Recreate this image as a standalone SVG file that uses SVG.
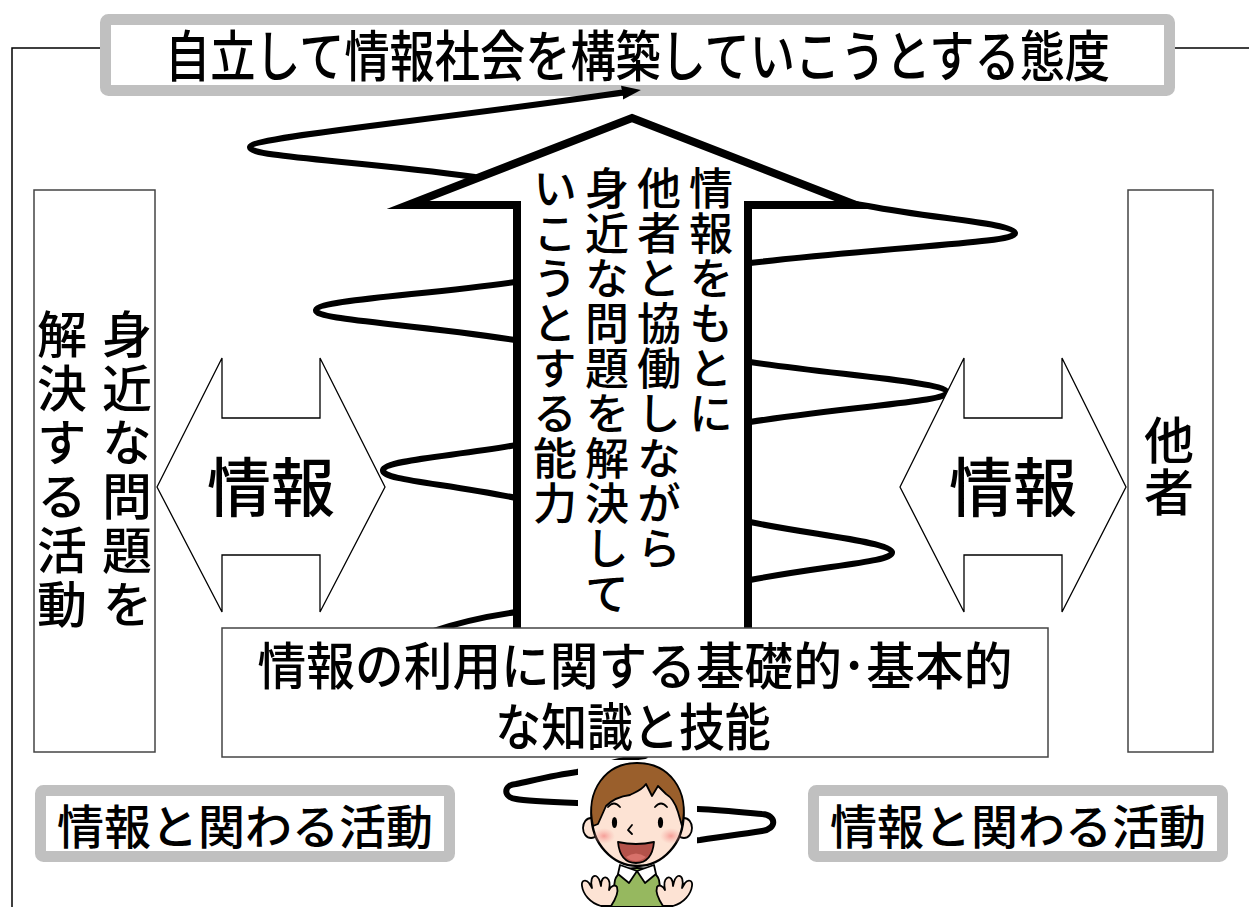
<svg xmlns="http://www.w3.org/2000/svg" width="1249" height="907" viewBox="0 0 1249 907">
  <style>
    .jp { font-family: "Noto Sans CJK JP", "Noto Sans", sans-serif; font-weight: 500; fill: #000; }
    .vert { writing-mode: vertical-rl; text-orientation: upright; }
    .frame { fill: none; stroke: #000; stroke-width: 1.5; }
    .thinbox { fill: #fff; stroke: #444; stroke-width: 1.5; }
    .graybox { fill: #fff; stroke: #c0c0c0; stroke-width: 11; }
    .dbl { fill: #fff; stroke: #000; stroke-width: 1.3; stroke-linejoin: miter; }
    .spiral { fill: none; stroke: #000; stroke-width: 6; stroke-linecap: butt; stroke-linejoin: round; }
    .ink { stroke: #000; stroke-width: 1.8; stroke-linejoin: round; stroke-linecap: round; }
  </style>
  <defs>
    <marker id="spiralHead" markerUnits="userSpaceOnUse" markerWidth="22" markerHeight="18" refX="8" refY="9" orient="auto">
      <path d="M0,2 L19,9 L0,16 Z" fill="#000"/>
    </marker>
    <radialGradient id="blush">
      <stop offset="0" stop-color="#f59a94" stop-opacity="0.95"/>
      <stop offset="1" stop-color="#f8b4ac" stop-opacity="0"/>
    </radialGradient>
  </defs>

  <rect width="1249" height="907" fill="#fff"/>

  <!-- outer frame -->
  <g id="frame">
    <path class="frame" d="M100,48 H12 V907"/>
    <path class="frame" d="M1175,48 H1249"/>
  </g>

  <!-- attitude (the spiral ends on its lower border) -->
  <g id="attitude">
    <rect class="graybox" x="105.5" y="19.5" width="1064" height="71" rx="3"/>
    <text class="jp" transform="translate(637.5,76) scale(0.822,1)" x="0" y="0" font-size="55" text-anchor="middle">自立して情報社会を構築していこうとする態度</text>
  </g>

  <!-- spiral that winds up around the central arrow -->
  <g id="connectors">
    <path class="spiral" marker-end="url(#spiralHead)" d="
      M690,841 L700,840
      C725,836 750,833 762,831
      C777,829 777,815 762,814
      C740,812 720,810 698,809
      L577,803
      C550,802 525,801 516,799
      C503,797 503,785 516,784
      C535,780 555,775 577,772
      C600,767 620,759 645,756
      L600,730 L420,662
      C398,655 404,640 430,632
      C460,622 495,615 517,612
      L750,580
      C828,565 894,562 892,552
      C890,542 814,535 750,522
      L516,498
      C443,483 381,480 383,470
      C385,460 456,456 516,445
      L750,422
      C858,405 949,402 947,392
      C945,382 839,375 750,362
      L515,340
      C406,323 314,320 316,310
      C318,300 425,295 515,282
      L750,263
      C896,246 1017,243 1015,233
      C1013,223 935,219 868,206
      L800,195 L475,177
      C351,160 248,157 250,147
      C252,137 421,122 630,91.5"/>
  </g>

  <!-- central upward arrow -->
  <g id="ability">
    <polygon points="632,118 856,205 748,205 748,640 517,640 517,205 408,205" fill="#fff" stroke="#000" stroke-width="8" stroke-miterlimit="8"/>
    <text class="jp vert" x="711" y="166" font-size="44" letter-spacing="1">情報をもとに</text>
    <text class="jp vert" x="659" y="166" font-size="44" letter-spacing="1">他者と協働しながら</text>
    <text class="jp vert" x="607" y="166" font-size="44" letter-spacing="1">身近な問題を解決して</text>
    <text class="jp vert" x="555" y="166" font-size="44" letter-spacing="1">いこうとする能力</text>
  </g>

  <!-- information exchange, left -->
  <g id="info-left">
    <polygon class="dbl" points="157,487 222,358 222,418 320,418 320,358 385,487 320,612 320,555 222,555 222,612"/>
    <text class="jp" x="271" y="511" font-size="64" text-anchor="middle">情報</text>
  </g>

  <!-- information exchange, right -->
  <g id="info-right">
    <polygon class="dbl" points="900,487 964,358 964,418 1062,418 1062,358 1126,487 1062,612 1062,555 964,555 964,612"/>
    <text class="jp" x="1013" y="511" font-size="64" text-anchor="middle">情報</text>
  </g>

  <!-- basic knowledge and skills -->
  <g id="knowledge">
    <rect class="thinbox" x="222" y="628" width="826" height="129"/>
    <text class="jp" transform="translate(635,685) scale(0.955,1)" x="0" y="0" font-size="51" text-anchor="middle">情報の利用に関する基礎的･基本的</text>
    <text class="jp" transform="translate(633,746) scale(0.9,1)" x="0" y="0" font-size="51" text-anchor="middle">な知識と技能</text>
  </g>

  <!-- problem-solving activity -->
  <g id="problem-solving">
    <rect class="thinbox" x="34" y="190" width="121" height="562"/>
    <text class="jp vert" x="127" y="309" font-size="50" letter-spacing="4">身近な問題を</text>
    <text class="jp vert" x="62" y="309" font-size="50" letter-spacing="4">解決する活動</text>
  </g>

  <!-- others -->
  <g id="others">
    <rect class="thinbox" x="1128" y="190" width="85" height="562"/>
    <text class="jp vert" x="1169" y="415" font-size="50" letter-spacing="2">他者</text>
  </g>

  <!-- activities involving information -->
  <g id="activity-left">
    <rect class="graybox" x="40.5" y="790.5" width="409" height="66" rx="3"/>
    <text class="jp" x="245" y="844" font-size="47" text-anchor="middle">情報と関わる活動</text>
  </g>
  <g id="activity-right">
    <rect class="graybox" x="813.5" y="790.5" width="409" height="66" rx="3"/>
    <text class="jp" x="1018" y="844" font-size="47" text-anchor="middle">情報と関わる活動</text>
  </g>

  <!-- learner figure -->
  <g id="learner">
    <rect x="578" y="760" width="119" height="147" fill="#fff"/>
    <!-- vest -->
    <path class="ink" d="M611,907 L615,880 Q619,868 637,868 Q655,868 659,880 L663,907 Z" fill="#96b85f"/>
    <!-- collar -->
    <path class="ink" d="M620,865 L637,871 L629,883 L618,874 Z" fill="#fff"/>
    <path class="ink" d="M654,865 L637,871 L645,883 L656,874 Z" fill="#fff"/>
    <!-- hands -->
    <path class="ink" fill="#fde3d4" d="M601,906 C590,903 583,894 582,886 C581,880 586,879 589,883 L592,888 C590,881 592,875 596,876 C599,877 600,881 601,886 C601,879 604,876 607,878 C610,880 610,885 609,890 C611,886 615,884 617,887 C619,893 615,900 611,906 Z"/>
    <path class="ink" fill="#fde3d4" d="M673,906 C684,903 691,894 692,886 C693,880 688,879 685,883 L682,888 C684,881 682,875 678,876 C675,877 674,881 673,886 C673,879 670,876 667,878 C664,880 664,885 665,890 C663,886 659,884 657,887 C655,893 659,900 663,906 Z"/>
    <!-- ears -->
    <ellipse class="ink" cx="591" cy="828" rx="8" ry="10" fill="#fde3d4"/>
    <ellipse class="ink" cx="684" cy="828" rx="8" ry="10" fill="#fde3d4"/>
    <!-- face -->
    <ellipse cx="637.5" cy="815" rx="46" ry="51" fill="#fde3d4" stroke="#000" stroke-width="2.4"/>
    <!-- hair -->
    <path class="ink" fill="#9a5f2c" d="M593,826 C585,790 606,763 637,763 C669,763 690,790 682,826 L678,812 C675,802 671,797 666,794 L658,786 L652,796 L646,784 C642,790 636,792 630,795 C622,796 613,799 606,806 L598,824 Z"/>
    <!-- eyebrows -->
    <path class="ink" fill="none" d="M608,807 Q614,800 620,807"/>
    <path class="ink" fill="none" d="M655,807 Q661,800 667,807"/>
    <!-- eyes -->
    <ellipse cx="614.5" cy="822.5" rx="2.6" ry="5.5" fill="#000"/>
    <ellipse cx="660.5" cy="822.5" rx="2.6" ry="5.5" fill="#000"/>
    <!-- nose -->
    <path class="ink" fill="none" d="M632,825 L628,830 L632,834"/>
    <!-- cheeks -->
    <ellipse cx="604" cy="836" rx="11" ry="8" fill="url(#blush)"/>
    <ellipse cx="671" cy="836" rx="11" ry="8" fill="url(#blush)"/>
    <!-- mouth -->
    <path class="ink" fill="#b4524a" d="M618,842 Q636,846 654,842 Q652,863 636,863 Q620,863 618,842 Z"/>
    <path fill="#d7716a" d="M626,857 Q636,850 646,857 Q641,861 636,861 Q630,861 626,857 Z"/>
  </g>
</svg>
